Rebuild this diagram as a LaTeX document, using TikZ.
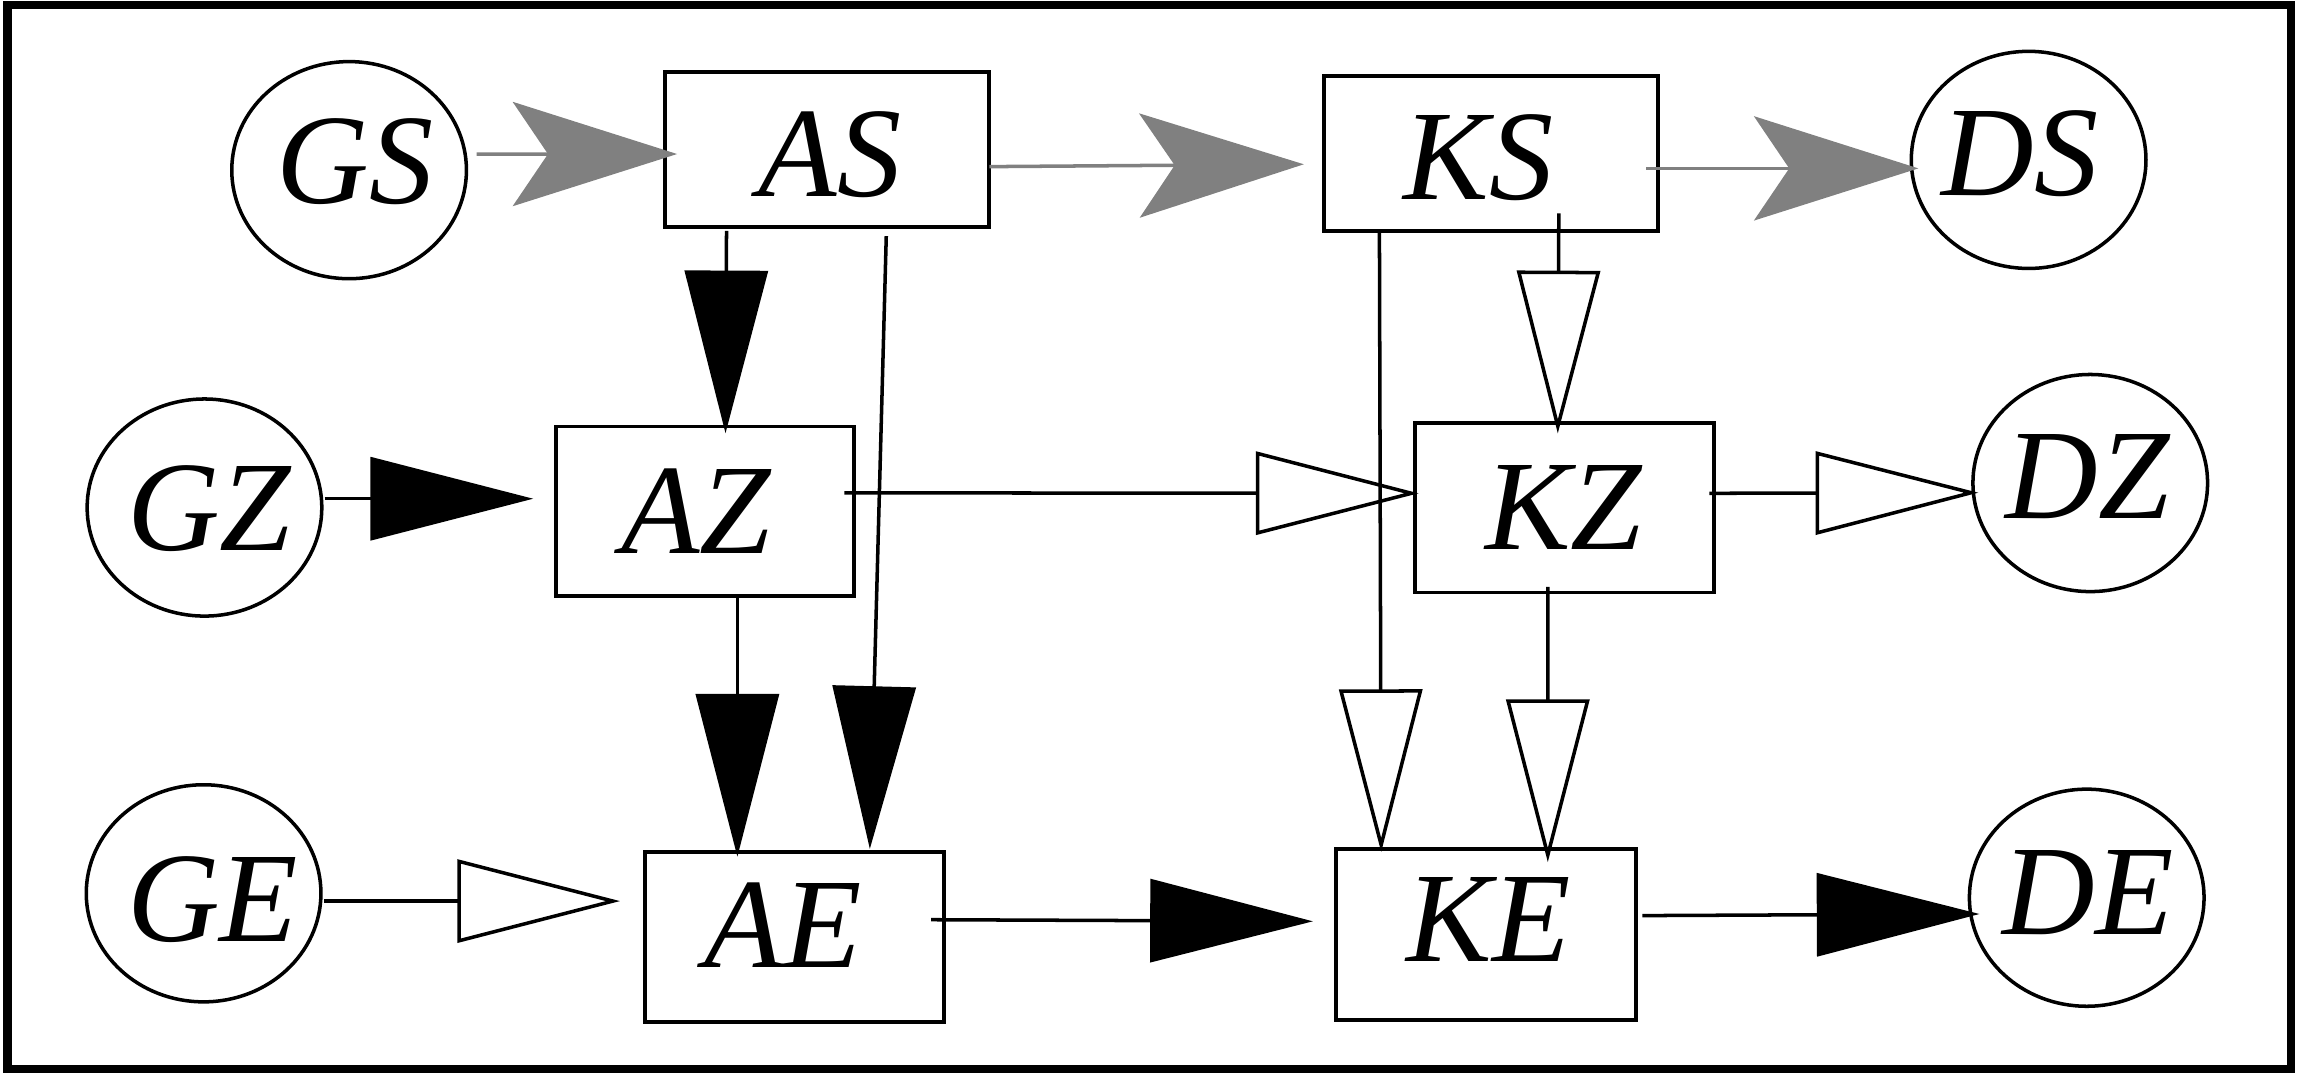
\documentclass[tikz,border=0pt]{standalone}
\usepackage{fontspec}
\setmainfont{Liberation Serif}
\usetikzlibrary{arrows.meta,shapes.geometric}
\definecolor{arrgray}{gray}{0.5}
\def\pxu{0.14668mm}
\begin{document}
\begin{tikzpicture}[x=\pxu, y=-\pxu,
  lbl/.style={font=\fontsize{36.5}{40}\selectfont\itshape, inner sep=0pt, outer sep=0pt, text height=24pt, text depth=0pt},
  ell/.style={draw, line width=1pt, ellipse, minimum width=66.77pt, minimum height=61.77pt, inner sep=0pt, outer sep=0pt},
  boxnode/.style={draw, line width=1.1pt, rectangle, inner sep=0pt, outer sep=0pt},
  conn/.style={line width=1pt},
  gtip/.style={conn, draw=arrgray, -{Stealth[length=46.74pt, width=29.63pt, inset=10pt]}},
  btip/.style={conn, -{Triangle[length=46.3pt, width=23.6pt]}},
  wtip/.style={conn, -{Triangle[open, length=46.3pt, width=23.6pt]}}
]
\useasboundingbox (0,0) rectangle (1568,733);
\draw[line width=2.4pt] (5,3.6) rectangle (1562,728.6);

% ellipses
\node[ell] (GS) at (238,116) {};
\node[ell] (GZ) at (139.4,346) {};
\node[ell] (GE) at (138.8,609) {};
\node[ell] (DS) at (1383,109) {};
\node[ell] (DZ) at (1425,329.3) {};
\node[ell] (DE) at (1422.6,612) {};

% boxes
\node[boxnode, minimum width=92.23pt, minimum height=44.11pt] (AS) at (564,102.2) {};
\node[boxnode, minimum width=94.94pt, minimum height=44.03pt] (KS) at (1016.3,104.5) {};
\node[boxnode, minimum width=84.72pt, minimum height=48.33pt] (AZ) at (480.5,348.7) {};
\node[boxnode, minimum width=85.05pt, minimum height=48.12pt] (KZ) at (1066.6,346.3) {};
\node[boxnode, minimum width=84.97pt, minimum height=48.20pt] (AE) at (541.8,638.8) {};
\node[boxnode, minimum width=85.35pt, minimum height=48.70pt] (KE) at (1013.3,637) {};

% labels
\node[lbl] (tGS) at (242,110) {GS};
\node[lbl] (tAS) at (566,105) {AS};
\node[lbl] (tKS) at (1008,107) {KS};
\node[lbl] (tDS) at (1377,104.7) {DS};
\node[lbl] (tGZ) at (142.7,346.7) {GZ};
\node[lbl] (tAZ) at (474.6,348.3) {AZ};
\node[lbl] (tKZ) at (1066,346) {KZ};
\node[lbl] (tDZ) at (1423.4,325) {DZ};
\node[lbl] (tGE) at (145,612.8) {GE};
\node[lbl] (tAE) at (534,631) {AE};
\node[lbl] (tKE) at (1014.8,627) {KE};
\node[lbl] (tDE) at (1423.7,608) {DE};

% connectors
\draw[gtip] ([shift={(6.9,-11)}]GS.east) -- ([shift={(8.1,2.8)}]AS.west);
\draw[gtip] ([shift={(0,11.4)}]AS.east) -- ([shift={(-13.7,7.5)}]KS.west);
\draw[gtip] ([shift={(-7.8,10.3)}]KS.east) -- ([shift={(4.8,5.8)}]DS.west);
\draw[btip] ([shift={(-68.7,2.3)}]AS.south) -- ([shift={(14.1,4.6)}]AZ.north);
\draw[btip] ([shift={(40.2,5.9)}]AS.south) -- ([shift={(51.2,-2.3)}]AE.north);
\draw[btip] ([shift={(22.2,0.4)}]AZ.south) -- ([shift={(-39.1,3)}]AE.north);
\draw[btip] ([shift={(1.9,-6)}]GZ.east) -- ([shift={(-15.5,-8.7)}]AZ.west);
\draw[wtip] ([shift={(-6.3,-12.7)}]AZ.east) -- ([shift={(2.4,-10)}]KZ.west);
\draw[wtip] ([shift={(-3.2,-10)}]KZ.east) -- ([shift={(3.7,6.6)}]DZ.west);
\draw[wtip] ([shift={(46.4,-11.8)}]KS.south) -- ([shift={(-4.6,6.8)}]KZ.north);
\draw[wtip] ([shift={(-75.9,0)}]KS.south) -- ([shift={(-71.7,2.2)}]KE.north);
\draw[wtip] ([shift={(-11.4,-3.9)}]KZ.south) -- ([shift={(41.9,9.1)}]KE.north);
\draw[wtip] ([shift={(2.2,5.3)}]GE.east) -- ([shift={(-17.3,-24.5)}]AE.west);
\draw[btip] ([shift={(-8.8,-11.8)}]AE.east) -- ([shift={(-16,-8.9)}]KE.west);
\draw[btip] ([shift={(4.1,-12.8)}]KE.east) -- ([shift={(6.9,11.1)}]DE.west);
\end{tikzpicture}
\end{document}
